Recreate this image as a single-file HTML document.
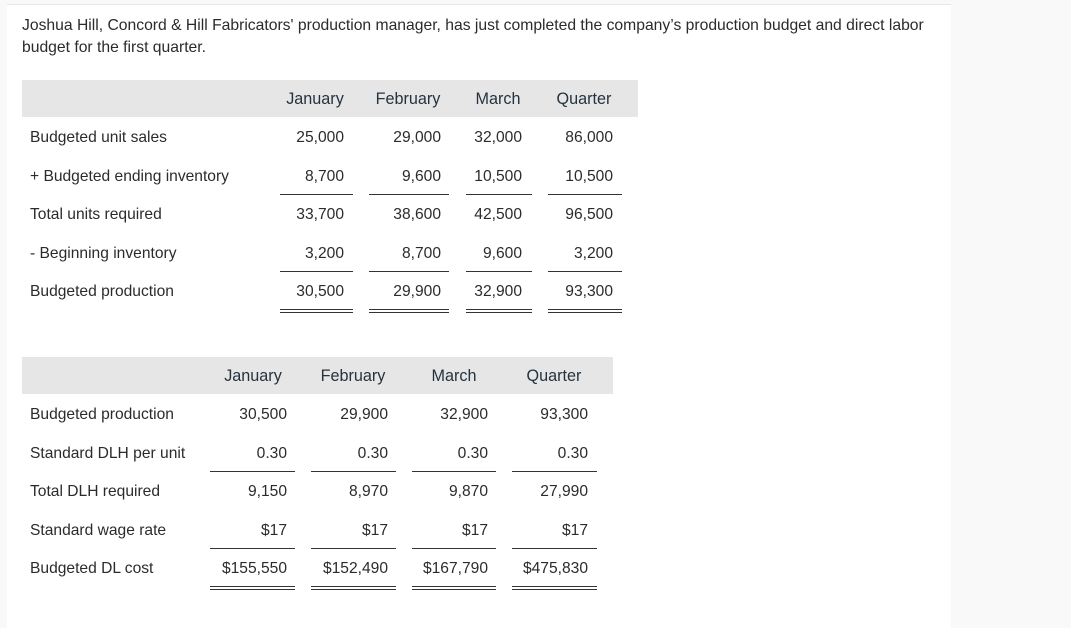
<!DOCTYPE html>
<html><head><meta charset="utf-8"><style>
body{margin:0;width:1071px;height:627px;background:#f9f9f9;font-family:"Liberation Sans",sans-serif;color:#2b2b2b;position:relative;overflow:hidden}
#card{position:absolute;left:7px;top:4px;width:944px;height:623px;background:#fff;border-top:1px solid #e8e8e8}
.t{position:absolute;font-size:15.6px;white-space:nowrap;line-height:18px}
.r{text-align:right}
.c{text-align:center}
.band{position:absolute;background:#e6e6e6}
.h{font-size:16.2px;color:#243340}
.ul{position:absolute;height:1px;background:#333}
.dl{position:absolute;height:4px;border-top:1px solid #333;border-bottom:1px solid #333;box-sizing:border-box}
</style></head><body>
<div id="card"></div>
<div class="t" style="left:22px;top:15px;font-size:15.7px;line-height:22px">Joshua Hill, Concord &amp; Hill Fabricators' production manager, has just completed the company’s production budget and direct labor<br>budget for the first quarter.</div>
<div id="root"></div>
<script>
const t1Cols=["January","February","March","Quarter"];
const t1Labels=["Budgeted unit sales","+ Budgeted ending inventory","Total units required","- Beginning inventory","Budgeted production"];
const t1Values=[["25,000","29,000","32,000","86,000"],["8,700","9,600","10,500","10,500"],["33,700","38,600","42,500","96,500"],["3,200","8,700","9,600","3,200"],["30,500","29,900","32,900","93,300"]];
const t2Cols=["January","February","March","Quarter"];
const t2Labels=["Budgeted production","Standard DLH per unit","Total DLH required","Standard wage rate","Budgeted DL cost"];
const t2Values=[["30,500","29,900","32,900","93,300"],["0.30","0.30","0.30","0.30"],["9,150","8,970","9,870","27,990"],["$17","$17","$17","$17"],["$155,550","$152,490","$167,790","$475,830"]];
const root=document.getElementById('root');
function add(cls,style,text){const d=document.createElement('div');d.className=cls;d.style.cssText=style;if(text!==undefined)d.textContent=text;root.appendChild(d);return d;}
function table(p,cols,labels,values,name){
  const b=add('band',`left:22px;top:${p.top}px;width:${p.bandW}px;height:37px`);
  
  
  cols.forEach((c,i)=>{
    const h=add('t h c',`left:${p.hc[i]-50}px;width:100px;top:${p.top+10}px`,c);
    
    
  });
  labels.forEach((l,r)=>{
    const y=p.top+49+r*38.6;
    const e=add('t',`left:30px;top:${y}px`,l);
    
    
    values[r].forEach((v,i)=>{
      const c=add('t r',`left:${p.re[i]-100}px;width:100px;top:${y}px`,v);
      
      
    });
  });
  p.ulines.forEach((u,k)=>{
    p.seg.forEach(s=>{
      const e=add(u.d?'dl':'ul',`left:${s[0]}px;width:${s[1]-s[0]}px;top:${u.y}px`);
      
      
    });
  });
}
table({top:80,bandW:616,hc:[315,408,498,584],re:[344,441,522,613],
  seg:[[280,353],[369,449],[466,532],[548,622]],
  ulines:[{y:194},{y:271},{y:309,d:1}]},t1Cols,t1Labels,t1Values,'production-budget');
table({top:357,bandW:591,hc:[253,353,454,554],re:[287,388,488,588],
  seg:[[210,295],[311,396],[412,496],[512,597]],
  ulines:[{y:471},{y:548},{y:586,d:1}]},t2Cols,t2Labels,t2Values,'labor-budget');
</script>
</body></html>
